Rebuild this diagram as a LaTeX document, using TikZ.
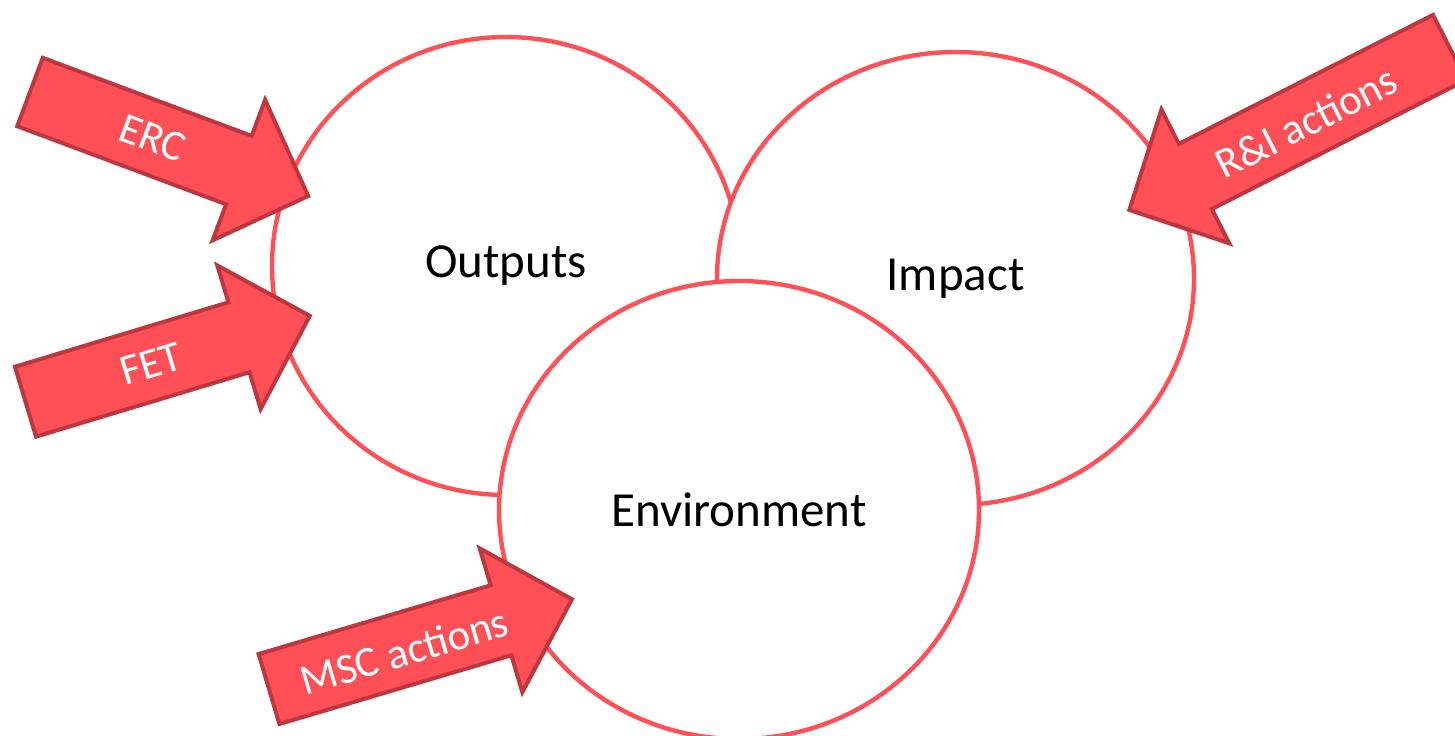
\documentclass[tikz,border=0pt]{standalone}
\usepackage{fontspec}
\setmainfont{Carlito}
\usetikzlibrary{shapes.geometric}
\definecolor{ringred}{RGB}{255,80,88}
\definecolor{arrowred}{RGB}{255,80,88}
\definecolor{arrowedge}{RGB}{190,55,62}
\tikzset{ring/.style={draw=ringred, line width=2.2pt, fill=white, ellipse, font=\fontsize{24.5}{28}\selectfont},
  arrowbody/.style={fill=arrowred, draw=arrowedge, line width=2pt, line join=miter},
  arrowtext/.style={text=white, font=\fontsize{21.5}{24}\selectfont},
  pics/blockarrow/.style={code={
    \draw[arrowbody] (0,-36.5) -- ({#1-74},-36.5) -- ({#1-74},-75) -- (#1,0) -- ({#1-74},75) -- ({#1-74},36.5) -- (0,36.5) -- cycle;
  }}}

\begin{document}
\begin{tikzpicture}[x=0.5pt, y=0.5pt]
	\useasboundingbox (0,0) rectangle (1455,-735);
	\clip (0,0) rectangle (1455,-735);

	\node[ring, minimum width=234pt, minimum height=229pt] (outputs) at (506,-266) {Outputs};
	\node[ring, minimum width=238.5pt, minimum height=226.5pt] (impact) at (955.5,-278.5) {Impact};
	\node[ring, minimum width=240pt, minimum height=229pt] (environment) at (739,-510) {Environment};

	\pic[rotate=-20.5] (ercarrow) at (30,-92) {blockarrow=297};
	\pic[rotate=16.8] (fetarrow) at (25.5,-401.7) {blockarrow=297};
	\pic[rotate=16.5] (mscarrow) at (269,-689) {blockarrow=316};
	\pic[rotate=206.9] (riarrow) at (1449.5,-47.5) {blockarrow=359};

	\node[arrowtext, rotate=-20.5] (erc) at (152.7,-137.9) {ERC};
	\node[arrowtext, rotate=16.8] (fet) at (150.9,-363.8) {FET};
	\node[arrowtext, rotate=16.5] (msc) at (404.2,-651) {MSC actions};
	\node[arrowtext, rotate=26.9] (ri) at (1306,-122) {R\&I actions};
\end{tikzpicture}
\end{document}
